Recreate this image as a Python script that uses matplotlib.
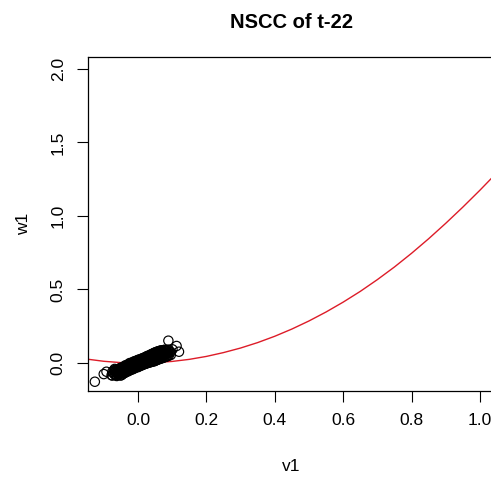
import matplotlib
matplotlib.use("Agg")
import matplotlib.pyplot as plt
import numpy as np

plt.rcParams['font.family'] = ['Liberation Sans', 'DejaVu Sans']

# fitted curve
curve_v = [-0.15, -0.10, -0.05, 0.00, 0.05, 0.10, 0.15, 0.20, 0.25, 0.30, 0.35, 0.40, 0.45,
           0.50, 0.55, 0.60, 0.65, 0.70, 0.75, 0.80, 0.85, 0.90, 0.95, 1.00, 1.05]
curve_w = [0.027, 0.012, 0.003, 0.000, 0.003, 0.011, 0.025, 0.045, 0.071, 0.102, 0.139, 0.182, 0.231,
           0.286, 0.347, 0.414, 0.487, 0.567, 0.653, 0.746, 0.845, 0.950, 1.060, 1.175, 1.295]

# scatter columns: v value and the w values seen at it
columns = [
    (-0.075, [-0.085, -0.06]),
    (-0.071, [-0.07, -0.05]),
    (-0.068, [-0.078, -0.055, -0.04]),
    (-0.065, [-0.082, -0.062, -0.045]),
    (-0.062, [-0.088, -0.07, -0.05]),
    (-0.058, [-0.08, -0.058, -0.042]),
    (-0.055, [-0.075, -0.06, -0.038]),
    (-0.051, [-0.085, -0.068, -0.05, -0.034]),
    (-0.048, [-0.082, -0.065, -0.045, -0.03]),
    (-0.045, [-0.075, -0.058, -0.04]),
    (-0.042, [-0.07, -0.052, -0.035]),
    (-0.039, [-0.068, -0.05, -0.03, -0.02]),
    (-0.036, [-0.062, -0.045, -0.025, -0.015]),
    (-0.033, [-0.055, -0.038, -0.02]),
    (-0.030, [-0.058, -0.04, -0.022]),
    (-0.027, [-0.052, -0.035, -0.018, -0.006]),
    (-0.024, [-0.05, -0.033, -0.015, 0.0]),
    (-0.021, [-0.042, -0.025, -0.008]),
    (-0.018, [-0.045, -0.027, -0.01]),
    (-0.015, [-0.04, -0.022, -0.005, 0.006]),
    (-0.012, [-0.038, -0.02, -0.003, 0.01]),
    (-0.009, [-0.034, -0.017, 0.0, 0.012]),
    (-0.006, [-0.03, -0.015, 0.002]),
    (-0.003, [-0.025, -0.008, 0.01, 0.018]),
    (0.000, [-0.028, -0.01, 0.008, 0.02]),
    (0.003, [-0.022, -0.006, 0.01, 0.024]),
    (0.006, [-0.02, -0.004, 0.012]),
    (0.009, [-0.016, 0.0, 0.016, 0.028]),
    (0.012, [-0.015, 0.002, 0.018, 0.03]),
    (0.015, [-0.01, 0.006, 0.022, 0.034]),
    (0.018, [-0.008, 0.01, 0.025]),
    (0.021, [-0.006, 0.012, 0.028, 0.04]),
    (0.024, [-0.004, 0.015, 0.032, 0.042]),
    (0.027, [0.0, 0.018, 0.035, 0.048]),
    (0.030, [0.002, 0.02, 0.038]),
    (0.033, [0.004, 0.022, 0.042, 0.052]),
    (0.036, [0.005, 0.025, 0.045, 0.055]),
    (0.039, [0.008, 0.028, 0.048, 0.06]),
    (0.042, [0.01, 0.03, 0.05, 0.062]),
    (0.045, [0.012, 0.032, 0.052, 0.066]),
    (0.048, [0.012, 0.035, 0.055, 0.07]),
    (0.051, [0.016, 0.038, 0.058, 0.072]),
    (0.054, [0.02, 0.04, 0.06, 0.075]),
    (0.057, [0.022, 0.042, 0.062, 0.078]),
    (0.060, [0.025, 0.045, 0.065, 0.08]),
    (0.063, [0.028, 0.048, 0.068, 0.082]),
    (0.066, [0.03, 0.05, 0.07, 0.085]),
    (0.069, [0.032, 0.052, 0.072, 0.086]),
    (0.072, [0.035, 0.055, 0.075]),
    (0.075, [0.038, 0.058, 0.078, 0.088]),
    (0.078, [0.04, 0.06, 0.08, 0.09]),
    (0.081, [0.042, 0.062, 0.082]),
    (0.084, [0.045, 0.065, 0.085]),
    (0.087, [0.048, 0.068, 0.088]),
    (0.090, [0.05, 0.07, 0.09]),
    (0.096, [0.055, 0.075]),
]
# stray points
out_v = [-0.126, -0.092, -0.077, -0.100, 0.089, 0.113, 0.120, 0.101]
out_w = [-0.127, -0.059, -0.082, -0.075, 0.152, 0.116, 0.077, 0.093]

pts_v = [v for v, ws in columns for w in ws] + out_v
pts_w = [w for v, ws in columns for w in ws] + out_w

fig = plt.figure(figsize=(4.91, 4.79), dpi=100)
ax = fig.add_axes([88/491, 88/479, (494-88)/491, (391-57)/479])

ax.plot(curve_v, curve_w, color='#dd1c28', linewidth=1.0, zorder=1)
ax.scatter(pts_v, pts_w, s=45, facecolors='none', edgecolors='black', linewidths=0.85, zorder=2)

ax.set_xlim(-0.146, 1.041)
ax.set_ylim(-0.19, 2.08)
ax.set_xticks([0.0, 0.2, 0.4, 0.6, 0.8, 1.0])
ax.set_yticks([0.0, 0.5, 1.0, 1.5, 2.0])
ax.xaxis.set_major_formatter(matplotlib.ticker.FormatStrFormatter('%.1f'))
ax.yaxis.set_major_formatter(matplotlib.ticker.FormatStrFormatter('%.1f'))
ax.tick_params(direction='out', length=8, width=0.8, labelsize=12.5, pad=8, colors='black')
plt.setp(ax.get_yticklabels(), rotation=90, va='center')
for sp in ax.spines.values():
    sp.set_linewidth(0.9)

ax.set_xlabel('v1', fontsize=12.5, labelpad=22)
ax.set_ylabel('w1', fontsize=12.5, labelpad=14)
fig.text(291/491, 1 - 23/479, 'NSCC of t-22', fontsize=14.5, fontweight='bold', ha='center', va='center')

fig.savefig('out.png', dpi=100)
